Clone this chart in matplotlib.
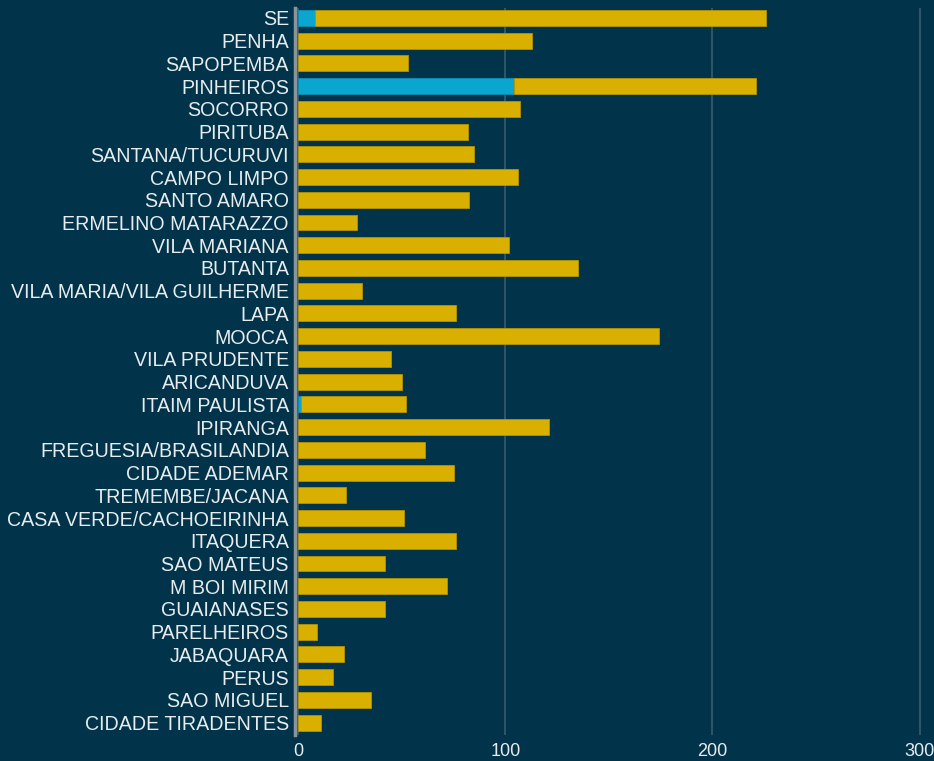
import matplotlib.pyplot as plt
import numpy as np

districts = [
    "SE", "PENHA", "SAPOPEMBA", "PINHEIROS", "SOCORRO", "PIRITUBA",
    "SANTANA/TUCURUVI", "CAMPO LIMPO", "SANTO AMARO", "ERMELINO MATARAZZO",
    "VILA MARIANA", "BUTANTA", "VILA MARIA/VILA GUILHERME", "LAPA", "MOOCA",
    "VILA PRUDENTE", "ARICANDUVA", "ITAIM PAULISTA", "IPIRANGA",
    "FREGUESIA/BRASILANDIA", "CIDADE ADEMAR", "TREMEMBE/JACANA",
    "CASA VERDE/CACHOEIRINHA", "ITAQUERA", "SAO MATEUS", "M BOI MIRIM",
    "GUAIANASES", "PARELHEIROS", "JABAQUARA", "PERUS", "SAO MIGUEL",
    "CIDADE TIRADENTES",
]
blue_vals = [8, 0, 0, 104, 0, 0, 0, 0, 0, 0, 0, 0, 0, 0, 0, 0, 0, 1.5, 0,
             0, 0, 0, 0, 0, 0, 0, 0, 0, 0, 0, 0, 0]
totals = [226, 113, 53, 221, 107, 82, 85, 106, 82.5, 28.5, 102, 135, 31, 76,
          174, 45, 50, 52, 121, 61, 75, 23, 51, 76, 42, 72, 42, 9, 22, 17,
          35, 11]
yellow_vals = [t - b for t, b in zip(totals, blue_vals)]

bg = "#01344a"
fig = plt.figure(figsize=(9.34, 7.61), dpi=100, facecolor=bg)
ax = fig.add_axes([0.316, 0.034, 0.684, 0.955], facecolor=bg)

y = np.arange(len(districts))
ax.barh(y, blue_vals, height=0.7, color="#0aa6d0", edgecolor="#0a8db3", linewidth=0.6)
ax.barh(y, yellow_vals, left=blue_vals, height=0.7, color="#dab000",
        edgecolor="#b39300", linewidth=0.6)

ax.set_yticks(y)
ax.set_yticklabels(districts, fontsize=14.1, color="#e8ecee", family="Liberation Sans")
ax.set_xticks([0, 100, 200, 300])
ax.set_xticklabels(["0", "100", "200", "300"], fontsize=13, color="#e8ecee",
                   family="Liberation Sans")
ax.tick_params(axis="y", length=0, pad=4.5)
ax.tick_params(axis="x", length=0, pad=6)
ax.set_xlim(-1.5, 307)
ax.set_ylim(31.55, -0.42)

ax.grid(axis="x", color="#3a5b6b", linewidth=1.2)
ax.set_axisbelow(True)
for s in ["top", "right", "bottom"]:
    ax.spines[s].set_visible(False)
ax.spines["left"].set_color("#8a9499")
ax.spines["left"].set_linewidth(2.5)

fig.savefig("out.png", dpi=100, facecolor=bg)
